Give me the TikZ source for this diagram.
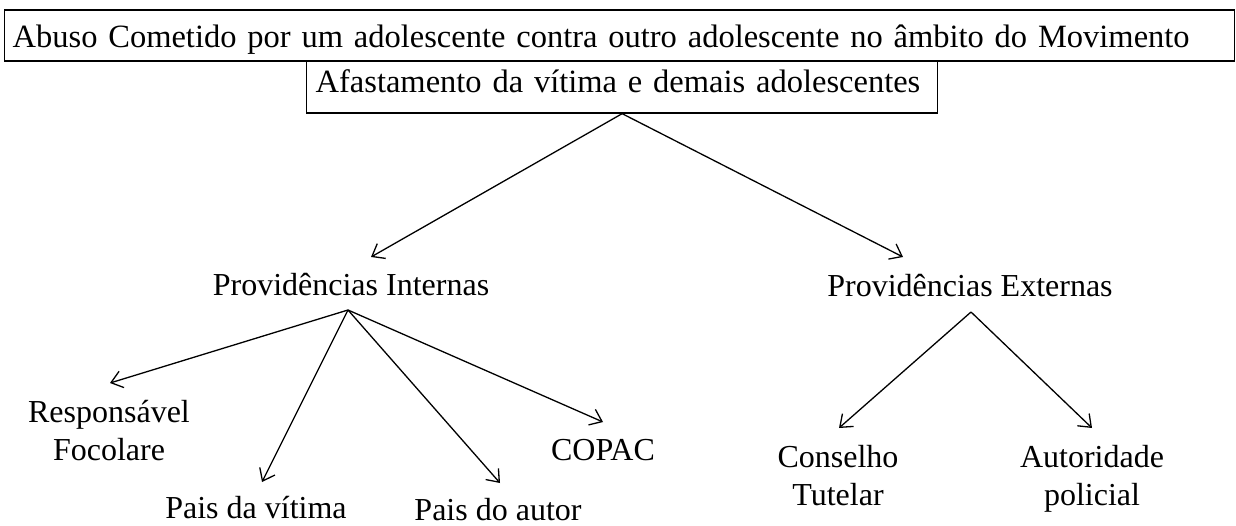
\documentclass[tikz,border=0pt]{standalone}
\usepackage{fontspec}
\setmainfont{Liberation Serif}
\usetikzlibrary{arrows.meta}
\begin{document}
\begin{tikzpicture}[x=1pt,y=-1pt,
  lbl/.style={inner sep=0pt,anchor=base,font=\fontsize{32}{38}\selectfont},
  boxnode/.style={draw,line width=1.3pt,inner ysep=0pt,align=left,anchor=base west,font=\fontsize{32.5}{38}\selectfont},
  arr/.style={line width=1.3pt,-{Straight Barb[length=11pt,width=17pt,line width=1.3pt]}}]
\useasboundingbox (0,0) rectangle (1236,525);
\node[boxnode,text width=1214pt,inner xsep=8pt,text height=37pt,text depth=14pt] (b1) at (4,47)
  {Abuso Cometido por um adolescente contra outro adolescente no âmbito do Movimento};
\node[boxnode,text width=613pt,inner xsep=9pt,text height=31pt,text depth=21pt] (b2) at (306,92)
  {Afastamento da vítima e demais adolescentes};
\node[lbl] (pi) at (351,295) {Providências Internas};
\node[lbl] (pe) at (970,296) {Providências Externas};
\node[lbl] (rf) at (109,422) {\begin{tabular}[t]{@{}c@{}}Responsável\\Focolare\end{tabular}};
\node[lbl] (pv) at (256,518) {Pais da vítima};
\node[lbl] (pa) at (498,520) {Pais do autor};
\node[lbl] (cp) at (603,460) {COPAC};
\node[lbl] (ct) at (838,467) {\begin{tabular}[t]{@{}c@{}}Conselho\\Tutelar\end{tabular}};
\node[lbl] (ap) at (1092,467) {\begin{tabular}[t]{@{}c@{}}Autoridade\\policial\end{tabular}};
% connector end points
\coordinate (pio) at (348,310);
\coordinate (peo) at (971,312);
\coordinate (piin) at (371,257);
\coordinate (pein) at (903,257);
\coordinate (rfin) at (110,383);
\coordinate (pvin) at (262,482);
\coordinate (pain) at (500,483);
\coordinate (cpin) at (603,422);
\coordinate (ctin) at (839,428);
\coordinate (apin) at (1092,428);
\draw[arr] (b2.south) -- (piin);
\draw[arr] (b2.south) -- (pein);
\draw[arr] (pio) -- (rfin);
\draw[arr] (pio) -- (pvin);
\draw[arr] (pio) -- (pain);
\draw[arr] (pio) -- (cpin);
\draw[arr] (peo) -- (ctin);
\draw[arr] (peo) -- (apin);
\end{tikzpicture}
\end{document}
